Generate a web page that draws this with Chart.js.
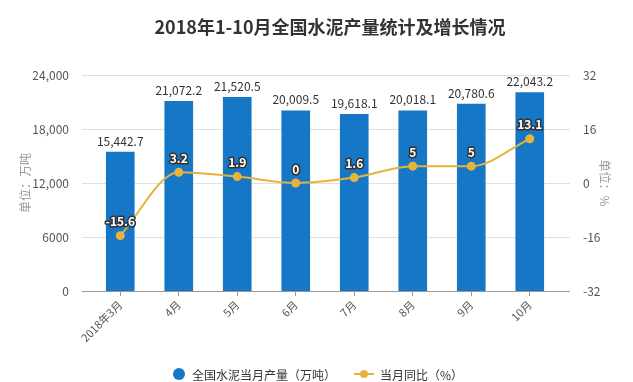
<!DOCTYPE html>
<html><head><meta charset="utf-8">
<script src="https://cdn.jsdelivr.net/npm/chart.js@4.4.1/dist/chart.umd.min.js"></script>
<style>html,body{margin:0;padding:0;background:#fff}#wrap{width:633px;height:382px}</style>
</head><body><div id="wrap"><canvas id="c" width="633" height="382"></canvas></div>
<script>
const categories = ['2018年3月','4月','5月','6月','7月','8月','9月','10月'];
const production = [15442.7, 21072.2, 21520.5, 20009.5, 19618.1, 20018.1, 20780.6, 22043.2];
const yoy = [-15.6, 3.2, 1.9, 0, 1.6, 5, 5, 13.1];
const leftTicks = [0, 6000, 12000, 18000, 24000];
const rightTicks = [-32, -16, 0, 16, 32];
const titleText = '2018年1-10月全国水泥产量统计及增长情况';
const seriesNames = ['全国水泥当月产量（万吨）', '当月同比（%）'];
const leftTitle = '单位：万吨';
const rightTitle = '单位：%';

const BAR = '#1677C6', LINE = '#E8B33D';
const FONT = '"Microsoft YaHei","Noto Sans CJK SC","Noto Sans",sans-serif';

function fmtLeft(v){ return v >= 10000 ? v.toLocaleString('en-US') : String(v); }
function fmtBar(v){ return v.toLocaleString('en-US',{minimumFractionDigits:1,maximumFractionDigits:1}); }

const decor = {
  id:'decor',
  beforeDatasetsDraw(chart){
    const ctx = chart.ctx, a = chart.chartArea, y = chart.scales.y;
    ctx.save();
    ctx.strokeStyle = '#e0e0e0'; ctx.lineWidth = 1;
    y.ticks.forEach(t => {
      if (t.value === 0) return;
      const py = Math.round(y.getPixelForValue(t.value)) + 0.5;
      ctx.beginPath(); ctx.moveTo(a.left - 9, py); ctx.lineTo(a.right + 11, py); ctx.stroke();
    });
    ctx.strokeStyle = '#9a9a9a';
    const by = Math.round(y.getPixelForValue(0)) + 0.5;
    ctx.beginPath(); ctx.moveTo(a.left - 9, by); ctx.lineTo(a.right + 11, by); ctx.stroke();
    ctx.restore();
  },
  afterDatasetsDraw(chart){
    const ctx = chart.ctx;
    ctx.save();
    const m0 = chart.getDatasetMeta(0);
    ctx.font = '12px ' + FONT; ctx.fillStyle = '#333'; ctx.textAlign = 'center'; ctx.textBaseline = 'middle';
    m0.data.forEach((el, i) => { ctx.fillText(fmtBar(production[i]), el.x, el.y - 11); });
    const m1 = chart.getDatasetMeta(1);
    ctx.font = 'bold 12px ' + FONT; ctx.lineJoin = 'round';
    m1.data.forEach((el, i) => {
      const s = String(yoy[i]);
      ctx.strokeStyle = '#333'; ctx.lineWidth = 3; ctx.strokeText(s, el.x, el.y - 14);
      ctx.fillStyle = '#fff'; ctx.fillText(s, el.x, el.y - 14);
    });
    ctx.restore();
  },
  afterDraw(chart){
    const ctx = chart.ctx;
    ctx.save();
    ctx.font = 'bold 18px ' + FONT; ctx.fillStyle = '#333'; ctx.textAlign = 'center'; ctx.textBaseline = 'middle';
    ctx.fillText(titleText, 330, 27);
    ctx.font = '12px ' + FONT; ctx.textAlign = 'left';
    const ly = 374;
    ctx.fillStyle = BAR; ctx.beginPath(); ctx.arc(179, ly, 6, 0, Math.PI*2); ctx.fill();
    ctx.fillStyle = '#333'; ctx.fillText(seriesNames[0], 192, ly + 1);
    ctx.strokeStyle = LINE; ctx.lineWidth = 2; ctx.beginPath(); ctx.moveTo(354, ly); ctx.lineTo(374, ly); ctx.stroke();
    ctx.fillStyle = LINE; ctx.beginPath(); ctx.arc(364, ly, 4, 0, Math.PI*2); ctx.fill();
    ctx.fillStyle = '#333'; ctx.fillText(seriesNames[1], 380, ly + 1);
    ctx.restore();
  }
};

new Chart(document.getElementById('c'), {
  data: {
    labels: categories,
    datasets: [
      { type:'bar', label: seriesNames[0], data: production, backgroundColor: BAR, yAxisID:'y', barThickness: 28, order: 2 },
      { type:'line', label: seriesNames[1], data: yoy, borderColor: LINE, backgroundColor: LINE, borderWidth: 2,
        pointRadius: 4.5, pointBackgroundColor: LINE, pointBorderColor: LINE, pointBorderWidth: 0,
        cubicInterpolationMode:'monotone', yAxisID:'y1', order: 1 }
    ]
  },
  options: {
    responsive:false, animation:false, devicePixelRatio:1,
    layout:{ padding:{ top:75, left:0, right:0, bottom:0 } },
    plugins:{ legend:{display:false}, title:{display:false}, tooltip:{enabled:false} },
    scales:{
      x:{
        offset:true,
        grid:{ display:true, drawOnChartArea:false, offset:false, tickLength:5, color:'#9a9a9a' },
        border:{ display:false },
        ticks:{ maxRotation:45, minRotation:45, color:'#555', font:{ size:11, family:FONT }, padding:2 },
        afterFit(s){ s.height = 91; }
      },
      y:{
        position:'left', min:0, max:24000,
        afterBuildTicks(s){ s.ticks = leftTicks.map(v => ({value:v})); },
        grid:{ display:false }, border:{ display:false },
        ticks:{ callback: v => fmtLeft(v), color:'#555', font:{ size:12, family:FONT }, padding:14 },
        title:{ display:true, text:leftTitle, color:'#999', font:{ size:12, family:FONT }, padding:18 },
        afterFit(s){ s.width = 91; }
      },
      y1:{
        position:'right', min:-32, max:32,
        afterBuildTicks(s){ s.ticks = rightTicks.map(v => ({value:v})); },
        grid:{ display:false }, border:{ display:false },
        ticks:{ color:'#555', font:{ size:12, family:FONT }, padding:16 },
        title:{ display:true, text:rightTitle, color:'#999', font:{ size:12, family:FONT }, padding:21 },
        afterFit(s){ s.width = 74; }
      }
    }
  },
  plugins:[decor]
});
</script></body></html>
